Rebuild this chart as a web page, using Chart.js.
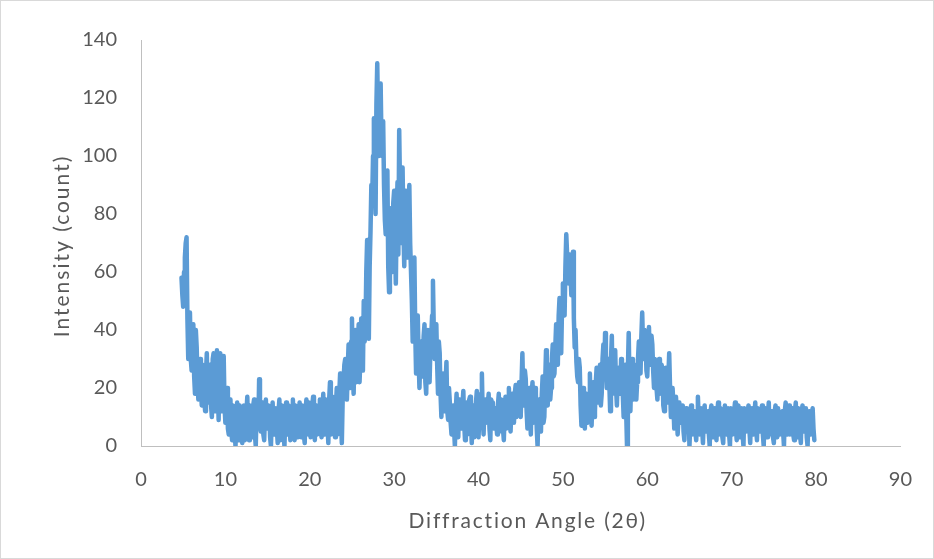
<!DOCTYPE html>
<html>
<head>
<meta charset="utf-8">
<script src="https://cdn.jsdelivr.net/npm/chart.js@4/dist/chart.umd.min.js"></script>
<style>
html,body{margin:0;padding:0;background:#fff;}
canvas{display:block;}
</style>
</head>
<body>
<canvas id="c" width="934" height="559"></canvas>
<script>
// Sampling of the scan (degrees 2θ)
const startAngle = 4.8;
const angleStep = 0.2;

// Intensity (count) at 4.8°, 5.0°, 5.2° ... (every 0.2°)
const intensity = [
  58,
  48, 65, 72, 30, 46,   // 5
  26, 42, 18, 34, 16,   // 6
  30, 14, 26, 12, 32,   // 7
  15, 28, 10, 32, 12,   // 8
  33, 9, 32, 14, 31,    // 9
  8, 20, 4, 16, 2,      // 10
  13, 0, 15, 3, 11,     // 11
  1, 14, 5, 17, 2,      // 12
  12, 3, 16, 0, 14,     // 13
  23, 5, 15, 2, 16,     // 14
  6, 12, 0, 15, 4,      // 15
  13, 1, 16, 5, 12,     // 16
  0, 15, 4, 12, 7,      // 17
  16, 2, 13, 6, 15,     // 18
  3, 11, 1, 16, 4,      // 19
  12, 6, 17, 2, 14,     // 20
  8, 16, 3, 18, 6,      // 21
  15, 1, 22, 9, 14,     // 22
  3, 20, 8, 25, 1,      // 23
  22, 30, 16, 35, 20,   // 24
  44, 18, 40, 24, 42,   // 25
  30, 38, 50, 40, 71,   // 26
  37, 74, 85, 113, 80,  // 27
  132, 100, 125, 100, 90, // 28
  73, 95, 53, 82, 60,   // 29
  88, 56, 91, 109, 70,  // 30
  96, 62, 85, 65, 90,   // 31
  60, 36, 65, 25, 45,   // 32
  20, 36, 28, 42, 18,   // 33
  40, 22, 38, 57, 30,   // 34
  42, 18, 32, 10, 25,   // 35
  16, 29, 9, 15, 4,     // 36
  14, 0, 18, 3, 12,     // 37
  6, 19, 2, 15, 8,      // 38
  17, 1, 14, 5, 19,     // 39
  3, 12, 25, 4, 16,     // 40
  8, 18, 2, 15, 6,      // 41
  13, 4, 18, 7, 15,     // 42
  2, 17, 9, 20, 5,      // 43
  18, 8, 21, 12, 22,    // 44
  10, 32, 14, 23, 6,    // 45
  20, 4, 22, 10, 18,    // 46
  0, 16, 5, 24, 10,     // 47
  33, 14, 28, 20, 35,   // 48
  25, 42, 28, 51, 32,   // 49
  56, 45, 73, 60, 66,   // 50
  52, 67, 34, 29, 22,   // 51
  27, 7, 20, 6, 18,     // 52
  9, 25, 7, 22, 12,     // 53
  27, 15, 28, 18, 35,   // 54
  39, 20, 30, 12, 38,   // 55
  22, 33, 14, 27, 18,   // 56
  25, 10, 28, 0, 39,    // 57
  12, 30, 18, 27, 22,   // 58
  36, 25, 46, 30, 38,   // 59
  24, 41, 28, 35, 20,   // 60
  28, 16, 30, 22, 26,   // 61
  12, 27, 15, 32, 10,   // 62
  20, 6, 17, 4, 15,     // 63
  8, 14, 2, 13, 5,      // 64
  0, 14, 6, 12, 2,      // 65
  17, 4, 13, 1, 14,     // 66
  5, 12, 0, 14, 3,      // 67
  13, 2, 15, 6, 12,     // 68
  1, 14, 4, 13, 0,      // 69
  12, 5, 15, 2, 14,     // 70
  3, 13, 0, 12, 6,      // 71
  14, 1, 13, 4, 15,     // 72
  2, 12, 5, 14, 0,      // 73
  13, 3, 15, 6, 12,     // 74
  1, 14, 3, 13, 5,      // 75
  12, 0, 15, 4, 14,     // 76
  6, 13, 2, 15, 3,      // 77
  12, 1, 14, 5, 13,     // 78
  0, 12, 4, 13, 2       // 79
];

// Intensity (count) read at the in-between angles 4.9°, 5.1°, 5.3° ... (every 0.2°)
const intensityMid = [
  52,
  60, 70, 44, 38, 30,   // 5.x
  36, 24, 40, 22, 28,   // 6.x
  20, 28, 16, 25, 18,   // 7.x
  24, 14, 30, 16, 26,   // 8.x
  20, 28, 12, 26, 14,   // 9.x
  16, 6, 12, 5, 14,     // 10.x
  5, 10, 2, 14, 4,      // 11.x
  10, 2, 12, 4, 14,     // 12.x
  7, 14, 4, 12, 6,      // 13.x
  10, 14, 4, 12, 6,     // 14.x
  14, 3, 10, 6, 12,     // 15.x
  6, 12, 2, 14, 4,      // 16.x
  10, 6, 14, 2, 12,     // 17.x
  8, 14, 3, 11, 6,      // 18.x
  14, 4, 12, 7, 15,     // 19.x
  3, 14, 8, 12, 4,      // 20.x
  14, 5, 12, 4, 16,     // 21.x
  8, 16, 4, 17, 6,      // 22.x
  14, 4, 18, 10, 16,    // 23.x
  28, 18, 26, 24, 36,   // 24.x
  26, 34, 22, 36, 22,   // 25.x
  44, 26, 36, 60, 50,   // 26.x
  62, 90, 100, 95, 118, // 27.x
  112, 118, 105, 112, 78, // 28.x
  88, 62, 76, 70, 84,   // 29.x
  70, 80, 66, 88, 84,   // 30.x
  75, 88, 72, 80, 70,   // 31.x
  50, 55, 40, 35, 30,   // 32.x
  30, 24, 38, 22, 34,   // 33.x
  28, 34, 45, 40, 38,   // 34.x
  28, 36, 18, 22, 12,   // 35.x
  22, 12, 20, 8, 12,    // 36.x
  6, 12, 8, 16, 6,      // 37.x
  14, 8, 12, 4, 16,     // 38.x
  8, 12, 3, 15, 6,      // 39.x
  10, 18, 10, 14, 8,    // 40.x
  14, 6, 16, 9, 12,     // 41.x
  8, 14, 5, 16, 6,      // 42.x
  12, 6, 15, 8, 14,     // 43.x
  12, 18, 10, 20, 14,   // 44.x
  22, 18, 26, 12, 16,   // 45.x
  12, 18, 8, 20, 6,     // 46.x
  12, 6, 18, 8, 22,     // 47.x
  20, 26, 16, 30, 24,   // 48.x
  34, 30, 45, 38, 48,   // 49.x
  50, 62, 66, 56, 60,   // 50.x
  60, 44, 40, 24, 30,   // 51.x
  14, 18, 10, 16, 8,    // 52.x
  18, 12, 16, 10, 22,   // 53.x
  20, 24, 14, 30, 24,   // 54.x
  28, 24, 22, 30, 18,   // 55.x
  28, 20, 24, 22, 30,   // 56.x
  18, 20, 12, 26, 20,   // 57.x
  24, 16, 28, 16, 30,   // 58.x
  28, 38, 34, 40, 26,   // 59.x
  32, 30, 38, 26, 30,   // 60.x
  20, 26, 18, 28, 14,   // 61.x
  22, 18, 24, 20, 16,   // 62.x
  14, 10, 12, 10, 8,    // 63.x
  12, 5, 10, 7, 12,     // 64.x
  8, 4, 12, 5, 10,      // 65.x
  9, 12, 6, 10, 5,      // 66.x
  10, 4, 12, 6, 11,     // 67.x
  6, 12, 4, 13, 3,      // 68.x
  11, 6, 12, 4, 13,     // 69.x
  4, 12, 6, 11, 5,      // 70.x
  12, 4, 13, 5, 12,     // 71.x
  6, 12, 4, 11, 6,      // 72.x
  13, 5, 11, 4, 12,     // 73.x
  6, 11, 4, 12, 3,      // 74.x
  12, 5, 13, 4, 11,     // 75.x
  5, 12, 6, 11, 4,      // 76.x
  11, 4, 12, 5, 13,     // 77.x
  4, 12, 6, 11, 3,      // 78.x
  10, 5, 11, 6          // 79.x
];

const xTitle = 'Diffraction Angle (2θ)';
const yTitle = 'Intensity (count)';

const points = [];
intensity.forEach((v, i) => {
  points.push({ x: +(startAngle + i * angleStep).toFixed(2), y: v });
  if (i < intensityMid.length) {
    points.push({ x: +(startAngle + angleStep / 2 + i * angleStep).toFixed(2), y: intensityMid[i] });
  }
});

const FONT = 'Lato, "Open Sans", sans-serif';

const decor = {
  id: 'decor',
  afterDraw(chart) {
    const ctx = chart.ctx;
    const a = chart.chartArea;
    ctx.save();
    ctx.strokeStyle = '#d9d9d9';
    ctx.lineWidth = 1;
    ctx.strokeRect(0.5, 0.5, chart.width - 1, chart.height - 1);
    ctx.fillStyle = '#595959';
    ctx.font = '21px ' + FONT;
    ctx.textAlign = 'center';
    ctx.textBaseline = 'middle';
    ctx.letterSpacing = '1.8px';
    ctx.fillText(xTitle, (a.left + a.right) / 2 + 7, 521);
    ctx.translate(62, (a.top + a.bottom) / 2 + 3);
    ctx.rotate(-Math.PI / 2);
    ctx.letterSpacing = '2px';
    ctx.fillText(yTitle, 0, 0);
    ctx.restore();
  }
};

const tickFont = { family: FONT, size: 20 };

new Chart(document.getElementById('c'), {
  type: 'line',
  data: {
    datasets: [{
      data: points,
      borderColor: '#5B9BD5',
      borderWidth: 4.5,
      pointRadius: 0,
      tension: 0,
      borderJoinStyle: 'round',
      borderCapStyle: 'round',
      fill: false
    }]
  },
  plugins: [decor],
  options: {
    responsive: false,
    animation: false,
    layout: { padding: { left: 0, top: 40, right: 28, bottom: 0 } },
    plugins: { legend: { display: false }, tooltip: { enabled: false } },
    scales: {
      x: {
        type: 'linear',
        min: 0, max: 90,
        ticks: { stepSize: 10, color: '#595959', font: tickFont, padding: 22, maxRotation: 0 },
        grid: { display: false, drawTicks: false },
        border: { display: true, color: '#bfbfbf', width: 1 },
        title: { display: false },
        afterFit(s) { s.height = 113; }
      },
      y: {
        min: 0, max: 140,
        ticks: { stepSize: 20, color: '#595959', font: tickFont, padding: 24 },
        grid: { display: false, drawTicks: false },
        border: { display: true, color: '#bfbfbf', width: 1 },
        title: { display: false },
        afterFit(s) { s.width = 141; }
      }
    }
  }
});
</script>
</body>
</html>
